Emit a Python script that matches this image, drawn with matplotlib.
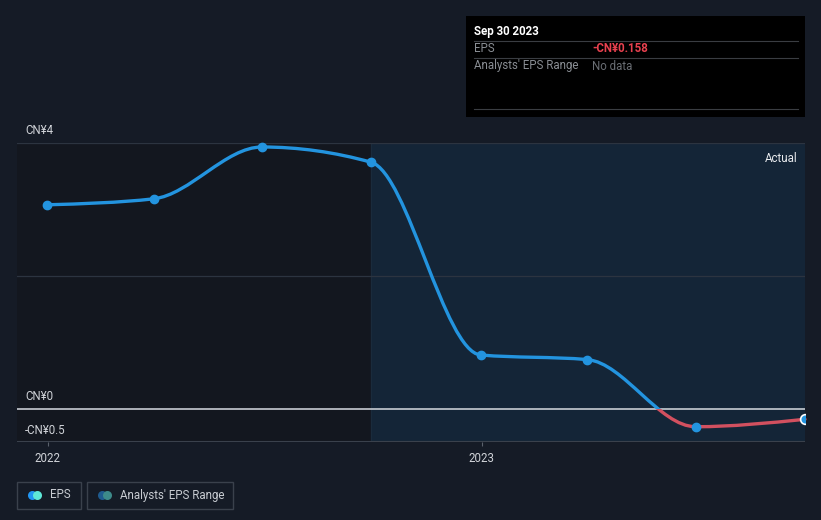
import numpy as np
import matplotlib
matplotlib.use("Agg")
import matplotlib.pyplot as plt
import matplotlib.dates as mdates
from matplotlib.path import Path
from matplotlib.patches import PathPatch, Rectangle
import datetime as dt

plt.rcParams['font.family'] = ['Roboto', 'DejaVu Sans']

# data
dates = ["2021-12-31", "2022-03-31", "2022-06-30", "2022-09-30",
         "2022-12-31", "2023-03-31", "2023-06-30", "2023-09-30"]
eps = [3.07, 3.16, 3.94, 3.71, 0.81, 0.74, -0.27, -0.158]
forecast_start = "2022-09-30"
y_ticks = [4, 0, -0.5]
y_labels = ["CN¥4", "CN¥0", "-CN¥0.5"]
x_ticks = ["2022-01-01", "2023-01-01"]
x_labels = ["2022", "2023"]

W, H = 821, 520
BG = "#151b26"
BLUE = "#2394df"
RED = "#d2505f"
FS = 8.3

x = mdates.date2num([dt.date.fromisoformat(d) for d in dates])
y = np.array(eps)


def monotone_path(x, y):
    # d3 curveMonotoneX style bezier
    n = len(x)
    h = np.diff(x)
    s = np.diff(y) / h
    t = np.zeros(n)
    for i in range(1, n - 1):
        if s[i - 1] * s[i] <= 0:
            t[i] = 0
        else:
            p = (s[i - 1] * h[i] + s[i] * h[i - 1]) / (h[i - 1] + h[i])
            t[i] = (np.sign(s[i - 1]) + np.sign(s[i])) * min(abs(s[i - 1]), abs(s[i]), 0.5 * abs(p))
    t[0] = (3 * s[0] - t[1]) / 2 if n > 2 else s[0]
    t[-1] = (3 * s[-1] - t[-2]) / 2 if n > 2 else s[-1]
    verts = [(x[0], y[0])]
    codes = [Path.MOVETO]
    for i in range(n - 1):
        dx = h[i] / 3
        verts += [(x[i] + dx, y[i] + dx * t[i]), (x[i + 1] - dx, y[i + 1] - dx * t[i + 1]), (x[i + 1], y[i + 1])]
        codes += [Path.CURVE4] * 3
    return Path(verts, codes)


fig = plt.figure(figsize=(W / 100, H / 100), dpi=100, facecolor=BG)
ax = fig.add_axes([17 / W, 1 - 442 / H, (805 - 17) / W, (442 - 143) / H])
ax.set_facecolor("#13171f")

x0 = mdates.date2num(dt.date(2022, 1, 1)) - 26
x1 = x[-1]
ax.set_xlim(x0, x1)
ax.set_ylim(-0.5, 4)

fs = mdates.date2num(dt.date.fromisoformat(forecast_start))
ax.axvspan(fs, x1, color="#142537", zorder=0)
ax.axvline(fs, color="#1a2b3c", lw=0.8, zorder=0.5)

for v in [4, 2]:
    ax.axhline(v, color="#2c3440", lw=0.9, zorder=1)
ax.axhline(-0.5, color="#3a414c", lw=1.5, zorder=1)
ax.axhline(0, color="#c8ccd2", lw=1.2, zorder=2)

path = monotone_path(x, y)
for col, (ylo, yhi) in [(BLUE, (0, 10)), (RED, (-10, 0))]:
    pp = PathPatch(path, facecolor="none", edgecolor=col, lw=2.4, zorder=3, capstyle="round")
    ax.add_patch(pp)
    clip = Rectangle((x0 - 100, ylo), x1 - x0 + 200, yhi - ylo, transform=ax.transData)
    pp.set_clip_path(clip)

ax.plot(x[:-1], y[:-1], "o", color=BLUE, ms=6, zorder=4, clip_on=False)
ax.plot(x[-1:], y[-1:], "o", color=BLUE, ms=7, mec="white", mew=1.2, zorder=5, clip_on=True)

for sp in ax.spines.values():
    sp.set_visible(False)
ax.set_yticks([])
xt = mdates.date2num([dt.date.fromisoformat(d) for d in x_ticks])
ax.set_xticks(xt)
ax.set_xticklabels(x_labels, color="#d0d3d8", fontsize=FS)
ax.tick_params(axis="x", length=3, color="#5a616c", pad=4)

ax.text(0.99, 0.97, "Actual", transform=ax.transAxes, ha="right", va="top", color="#e8eaed", fontsize=FS)


def px(xp, yp):
    return xp / W, 1 - yp / H


for lab, yp in zip(y_labels, [130, 397, 430]):
    fig.text(*px(25, yp), lab, color="#d0d3d8", fontsize=FS, va="center", ha="left")

# tooltip
fig.patches.append(Rectangle(px(466, 117), (805 - 466) / W, (117 - 16) / H, transform=fig.transFigure,
                             facecolor="black", edgecolor="none", zorder=5))
for yp in [41, 58, 109]:
    fig.lines.append(plt.Line2D([474 / W, 798 / W], [1 - yp / H] * 2, transform=fig.transFigure,
                                color="#3a3d42", lw=0.8, zorder=6))
fig.text(*px(474, 31), "Sep 30 2023", color="white", fontsize=FS, fontweight="bold", va="center", zorder=7)
fig.text(*px(474, 49), "EPS", color="#8a8e94", fontsize=FS, va="center", zorder=7)
fig.text(*px(592, 49), "-CN¥0.158", color="#e8414f", fontsize=FS, fontweight="bold", va="center", zorder=7)
fig.text(*px(474, 66), "Analysts' EPS Range", color="#8a8e94", fontsize=FS, va="center", zorder=7)
fig.text(*px(592, 66), "No data", color="#6a6e74", fontsize=FS, va="center", zorder=7)

# legend
for bx0, bx1 in [(17, 81), (87, 233)]:
    fig.patches.append(Rectangle(px(bx0, 509), (bx1 - bx0) / W, 27 / H, transform=fig.transFigure,
                                 facecolor="none", edgecolor="#3a414c", lw=1))
for cx, col in [(32, "#2196f3"), (37, "#5ee8d8"), (102, "#1f5b8f"), (107, "#3d8a8a")]:
    fig.lines.append(plt.Line2D([cx / W], [1 - 495 / H], transform=fig.transFigure, marker="o",
                                ms=6.5, color=col, mew=0))
fig.text(*px(50, 495), "EPS", color="#c8ccd2", fontsize=FS, va="center")
fig.text(*px(120, 495), "Analysts' EPS Range", color="#c8ccd2", fontsize=FS, va="center")

fig.savefig("out.png", dpi=100, facecolor=BG)
